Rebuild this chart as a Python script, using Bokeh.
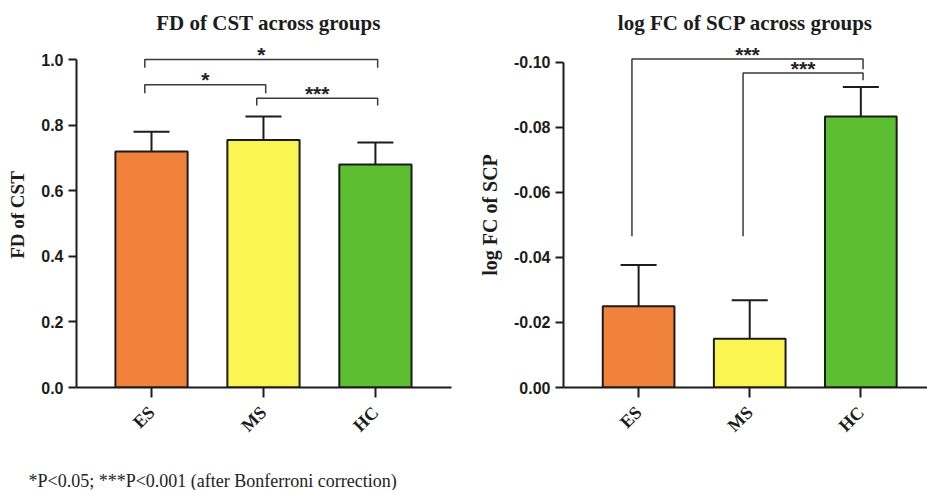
import math
from bokeh.plotting import figure
from bokeh.models import (Range1d, FixedTicker, NumeralTickFormatter, Whisker, TeeHead,
                          ColumnDataSource)
from bokeh.layouts import row, column
from bokeh.core.properties import value
from bokeh.embed import file_html
from bokeh.resources import INLINE

# ---------------- data ----------------
groups = ["ES", "MS", "HC"]
bar_colors = ["#F0823C", "#FBF552", "#5CBF32"]

fd_mean = [0.720, 0.755, 0.680]
fd_sd = [0.060, 0.071, 0.067]
fd_ticks = [0.0, 0.2, 0.4, 0.6, 0.8, 1.0]
# (from, to, bracket level, left end, right end, label)
fd_comparisons = [
    ("ES", "HC", 1.000, 0.975, 0.975, "*"),
    ("ES", "MS", 0.923, 0.897, 0.897, "*"),
    ("MS", "HC", 0.882, 0.860, 0.860, "***"),
]

fc_mean = [-0.0250, -0.0150, -0.0833]
fc_sd = [0.0126, 0.0118, 0.0090]
fc_ticks = [0.0, -0.02, -0.04, -0.06, -0.08, -0.10]
fc_comparisons = [
    ("ES", "HC", -0.1009, -0.0465, -0.0978, "***"),
    ("MS", "HC", -0.0966, -0.0465, -0.0944, "***"),
]

footnote = "*P<0.05; ***P<0.001 (after Bonferroni correction)"

SERIF = "Liberation Serif"
SANS = "Liberation Sans"
INK = "#1c1c1c"
H = 466


def make_panel(title, ylabel, means, sds, ticks, tick_fmt, comps, width, x_range,
               y_range, y_bounds, x_bounds, border_left, title_size, ylabel_size):
    p = figure(width=width, height=H, x_range=x_range, y_range=y_range,
               output_backend="svg", toolbar_location=None,
               min_border_left=border_left, min_border_right=0,
               min_border_top=42, min_border_bottom=79)
    p.outline_line_color = None
    p.xgrid.visible = False
    p.ygrid.visible = False

    p.title.text = title
    p.title.align = "center"
    p.title.text_font = SERIF
    p.title.text_font_style = "bold"
    p.title.text_font_size = title_size
    p.title.text_color = INK
    p.title.standoff = 16

    xs = list(range(len(groups)))
    upper = [m + s if m >= 0 else m - s for m, s in zip(means, sds)]
    src = ColumnDataSource(dict(x=xs, top=means, upper=upper, color=bar_colors))

    w = Whisker(base="x", lower="top", upper="upper", source=src,
                line_color=INK, line_width=2,
                upper_head=TeeHead(size=36, line_color=INK, line_width=2),
                lower_head=None)
    p.add_layout(w)

    p.vbar(x="x", top="top", bottom=0, width=0.645, fill_color="color",
           line_color=INK, line_width=2, source=src)

    # significance brackets
    bx, by, tx, ty, tt = [], [], [], [], []
    for a, b, lvl, yl, yr, lab in comps:
        x1 = groups.index(a) - 0.06
        x2 = groups.index(b) + 0.02
        bx.append([x1, x1, x2, x2])
        by.append([yl, lvl, lvl, yr])
        tx.append((x1 + x2) / 2)
        ty.append(lvl)
        tt.append(lab)
    p.multi_line(xs=bx, ys=by, line_color="#3a3a3a", line_width=1.5)
    p.text(x=tx, y=ty, text=tt, text_align="center", text_baseline="alphabetic",
           text_font=value(SANS), text_font_style="bold", text_font_size="21px",
           text_color="#222222", y_offset=-5)

    # axes
    ax = p.yaxis[0]
    ax.ticker = FixedTicker(ticks=ticks)
    ax.formatter = NumeralTickFormatter(format=tick_fmt)
    ax.bounds = y_bounds
    ax.axis_line_width = 2
    ax.axis_line_color = INK
    ax.major_tick_line_width = 2
    ax.major_tick_line_color = INK
    ax.major_tick_out = 8
    ax.major_tick_in = 0
    ax.minor_tick_line_color = None
    ax.major_label_text_font = SANS
    ax.major_label_text_font_style = "bold"
    ax.major_label_text_font_size = "16px"
    ax.major_label_text_color = INK
    ax.major_label_standoff = 5
    ax.axis_label = ylabel
    ax.axis_label_text_font = SERIF
    ax.axis_label_text_font_style = "bold"
    ax.axis_label_text_font_size = ylabel_size
    ax.axis_label_text_color = INK
    ax.axis_label_standoff = 10

    bx_ = p.xaxis[0]
    bx_.ticker = FixedTicker(ticks=xs)
    bx_.major_label_overrides = {i: g for i, g in enumerate(groups)}
    bx_.major_label_orientation = math.pi / 4
    bx_.bounds = x_bounds
    bx_.axis_line_width = 2
    bx_.axis_line_color = INK
    bx_.major_tick_line_width = 2
    bx_.major_tick_line_color = INK
    bx_.major_tick_out = 10
    bx_.major_tick_in = 0
    bx_.minor_tick_line_color = None
    bx_.major_label_text_font = SERIF
    bx_.major_label_text_font_style = "bold"
    bx_.major_label_text_font_size = "18px"
    bx_.major_label_text_color = INK
    bx_.major_label_standoff = 12
    return p


p1 = make_panel("FD of CST across groups", "FD of CST", fd_mean, fd_sd, fd_ticks, "0.0",
                fd_comparisons, 460, Range1d(-0.67, 2.76), Range1d(0, 1.052),
                (0, 1.0), (-0.67, 2.68), 76, "21px", "19px")

p2 = make_panel("log FC of SCP across groups", "log FC of SCP", fc_mean, fc_sd, fc_ticks, "0.00",
                fc_comparisons, 467, Range1d(-0.676, 2.60), Range1d(0, -0.106),
                (-0.10, 0), (-0.676, 2.60), 103, "21px", "20px")

# footnote strip
FW, FH = 927, 24
p3 = figure(width=FW, height=FH, x_range=Range1d(0, FW), y_range=Range1d(0, FH),
            output_backend="svg", toolbar_location=None, min_border=0)
p3.axis.visible = False
p3.grid.visible = False
p3.outline_line_color = None
p3.text(x=[28], y=[FH - 14], text=[footnote], text_align="left", text_baseline="middle",
        text_font=value(SERIF), text_font_size="18px", text_color="#222222")

layout = column(row(p1, p2), p3)
open("out.html", "w").write(file_html(layout, INLINE))
